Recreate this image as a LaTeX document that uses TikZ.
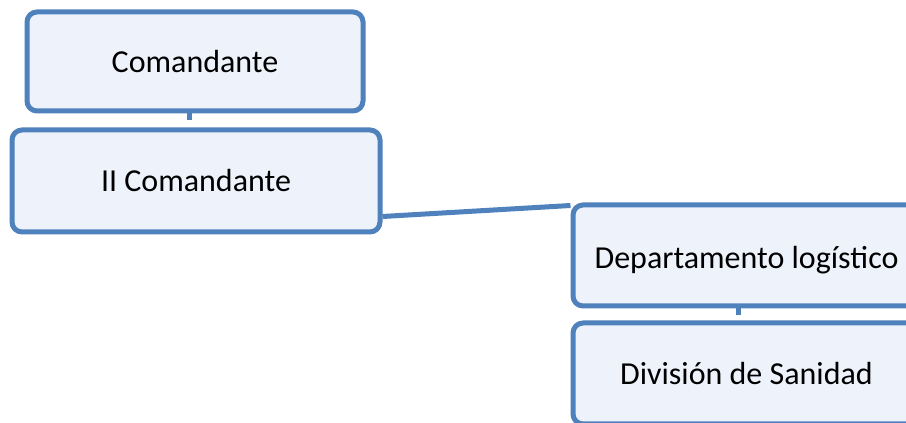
\documentclass[tikz,border=0pt]{standalone}
\usepackage{fontspec}
\setmainfont{Carlito}
\definecolor{boxline}{HTML}{4F81BD}
\definecolor{boxfill}{HTML}{EEF2FA}
\begin{document}
\begin{tikzpicture}[x=1pt,y=1pt,
  orgbox/.style={draw=boxline, line width=5pt, fill=boxfill, rounded corners=10pt,
    inner sep=0pt, font=\fontsize{32}{38}\selectfont, text=black},
  link/.style={draw=boxline, line width=5pt}]
\useasboundingbox (0,0) rectangle (906,423);
\clip (0,0) rectangle (906,423);
\fill[white] (0,0) rectangle (906,423);
\node[orgbox, minimum width=336pt, minimum height=99pt] (a) at (195,361.5) {Comandante};
\node[orgbox, minimum width=368pt, minimum height=102pt] (b) at (196,242) {II Comandante};
\node[orgbox, minimum width=347pt, minimum height=101pt, text height=32.5pt, text depth=6pt] (c) at (746.5,167.5) {Departamento logístico};
\node[orgbox, minimum width=347pt, minimum height=101pt, text height=29pt, text depth=6pt] (d) at (746.5,49.5) {División de Sanidad};
\draw[link, shorten >=7pt] ([xshift=-6pt]a.south) -- ([xshift=-7pt]b.north);
\draw[link] ([yshift=18pt]b.south east) -- ([yshift=-3pt]c.north west);
\draw[link, shorten >=5pt] ([xshift=-8pt]c.south) -- ([xshift=-8pt]d.north);
\end{tikzpicture}
\end{document}
